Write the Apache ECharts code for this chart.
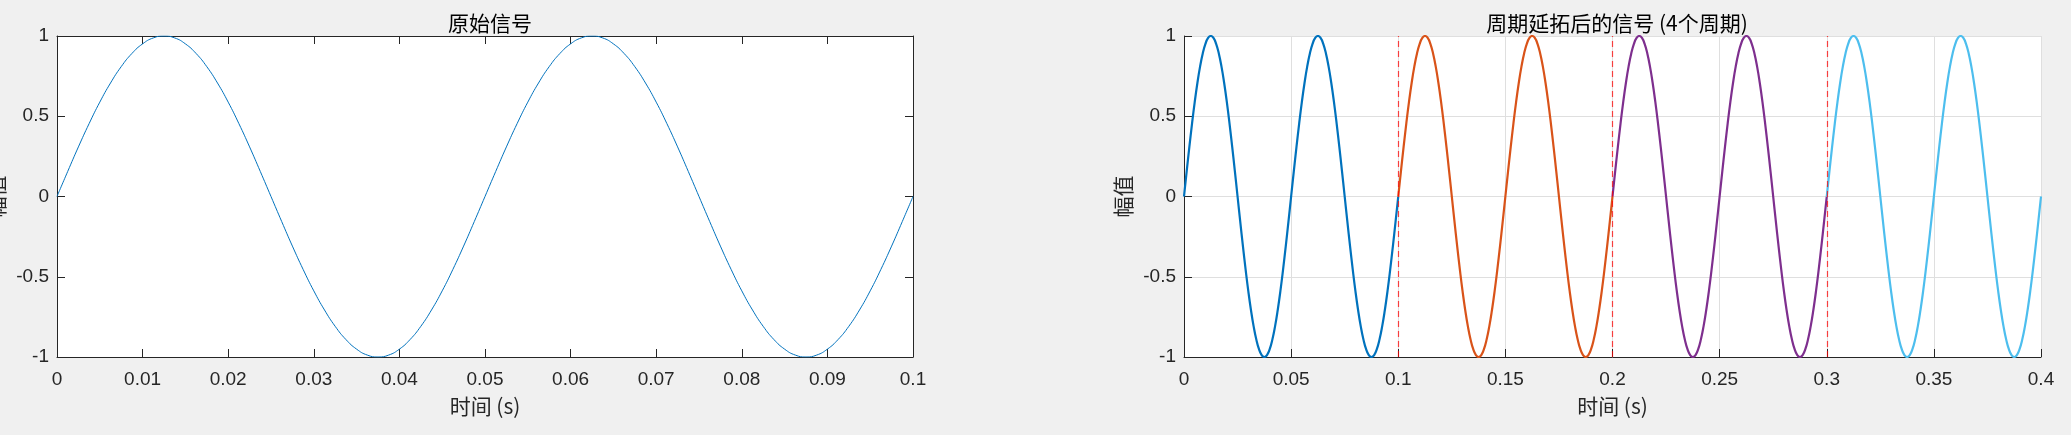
<!DOCTYPE html>
<html>
<head>
<meta charset="utf-8">
<script src="https://cdn.jsdelivr.net/npm/echarts@6/dist/echarts.min.js"></script>
<style>
html,body{margin:0;padding:0;background:#f0f0f0;}
#c{width:2071px;height:435px;}
</style>
</head>
<body>
<div id="c"></div>
<script>
// ---- data ----
const titles = ['原始信号', '周期延拓后的信号 (4个周期)'];
const xName = '时间 (s)';
const yName = '幅值';
// one period of the original signal (0 .. 0.1 s), sampled every 0.00125 s
const timeOrig = [0, 0.00125, 0.0025, 0.00375, 0.005, 0.00625, 0.0075, 0.00875, 0.01, 0.01125,
  0.0125, 0.01375, 0.015, 0.01625, 0.0175, 0.01875, 0.02, 0.02125, 0.0225, 0.02375,
  0.025, 0.02625, 0.0275, 0.02875, 0.03, 0.03125, 0.0325, 0.03375, 0.035, 0.03625,
  0.0375, 0.03875, 0.04, 0.04125, 0.0425, 0.04375, 0.045, 0.04625, 0.0475, 0.04875,
  0.05, 0.05125, 0.0525, 0.05375, 0.055, 0.05625, 0.0575, 0.05875, 0.06, 0.06125,
  0.0625, 0.06375, 0.065, 0.06625, 0.0675, 0.06875, 0.07, 0.07125, 0.0725, 0.07375,
  0.075, 0.07625, 0.0775, 0.07875, 0.08, 0.08125, 0.0825, 0.08375, 0.085, 0.08625,
  0.0875, 0.08875, 0.09, 0.09125, 0.0925, 0.09375, 0.095, 0.09625, 0.0975, 0.09875, 0.1];
const ampOrig = [0, 0.156, 0.309, 0.454, 0.588, 0.707, 0.809, 0.891, 0.951, 0.988,
  1, 0.988, 0.951, 0.891, 0.809, 0.707, 0.588, 0.454, 0.309, 0.156,
  0, -0.156, -0.309, -0.454, -0.588, -0.707, -0.809, -0.891, -0.951, -0.988,
  -1, -0.988, -0.951, -0.891, -0.809, -0.707, -0.588, -0.454, -0.309, -0.156,
  0, 0.156, 0.309, 0.454, 0.588, 0.707, 0.809, 0.891, 0.951, 0.988,
  1, 0.988, 0.951, 0.891, 0.809, 0.707, 0.588, 0.454, 0.309, 0.156,
  0, -0.156, -0.309, -0.454, -0.588, -0.707, -0.809, -0.891, -0.951, -0.988,
  -1, -0.988, -0.951, -0.891, -0.809, -0.707, -0.588, -0.454, -0.309, -0.156, 0];
// start time of each repeated period in the extended signal
const periodStarts = [0, 0.1, 0.2, 0.3];
const periodColors = ['#0072BD', '#D95319', '#7E2F8E', '#4DBEEE'];
// period boundaries (red dashed lines)
const boundaries = [0.1, 0.2, 0.3];
const yTicks = { min: -1, max: 1, interval: 0.5 };
const xLeft = { min: 0, max: 0.1, interval: 0.01 };
const xRight = { min: 0, max: 0.4, interval: 0.05 };

// ---- chart ----
const AX = '#262626';
const FONT = '"Liberation Sans", Arial, "Noto Sans CJK SC", sans-serif';
const CJK = '"Noto Sans CJK SC", "Liberation Sans", sans-serif';
const fmt = v => String(+v.toFixed(4));

const chart = echarts.init(document.getElementById('c'), null, { renderer: 'canvas' });

function baseAxisLine() { return { show: true, onZero: false, lineStyle: { color: AX, width: 1 } }; }
function ticks(len) { return { show: true, inside: true, length: len, lineStyle: { color: AX, width: 1 } }; }
const label = { color: AX, fontSize: 19, fontFamily: FONT };
const nameStyle = { color: AX, fontSize: 21, fontFamily: CJK };

const grids = [
  { left: 57, right: 1158, top: 36, bottom: 78, backgroundColor: '#fff', show: true, borderWidth: 0,
    containLabel: false, outerBoundsMode: 'none' },
  { left: 1184, right: 30, top: 36, bottom: 78, backgroundColor: '#fff', show: true, borderWidth: 0,
    containLabel: false, outerBoundsMode: 'none' }
];

const xAxes = [
  // left plot bottom
  { type: 'value', gridIndex: 0, position: 'bottom', ...xLeft,
    axisLine: baseAxisLine(), axisTick: ticks(8), splitLine: { show: false },
    axisLabel: { ...label, margin: 13, formatter: fmt },
    name: xName, nameLocation: 'middle', nameGap: 39, nameTextStyle: nameStyle },
  // left plot top (box)
  { type: 'value', gridIndex: 0, position: 'top', ...xLeft,
    axisLine: baseAxisLine(), axisTick: ticks(8), splitLine: { show: false },
    axisLabel: { show: false } },
  // right plot bottom
  { type: 'value', gridIndex: 1, position: 'bottom', ...xRight,
    axisLine: baseAxisLine(), axisTick: ticks(8),
    splitLine: { show: true, lineStyle: { color: '#dfdfdf', width: 1 } },
    axisLabel: { ...label, margin: 13, formatter: fmt },
    name: xName, nameLocation: 'middle', nameGap: 39, nameTextStyle: nameStyle }
];

const yAxes = [
  { type: 'value', gridIndex: 0, position: 'left', ...yTicks,
    axisLine: baseAxisLine(), axisTick: ticks(8), splitLine: { show: false },
    axisLabel: { ...label, margin: 8, formatter: fmt },
    name: yName, nameLocation: 'middle', nameGap: 50, nameRotate: 90, nameTextStyle: nameStyle },
  { type: 'value', gridIndex: 0, position: 'right', ...yTicks,
    axisLine: baseAxisLine(), axisTick: ticks(8), splitLine: { show: false },
    axisLabel: { show: false } },
  { type: 'value', gridIndex: 1, position: 'left', ...yTicks,
    axisLine: baseAxisLine(), axisTick: ticks(8),
    splitLine: { show: true, lineStyle: { color: '#dfdfdf', width: 1 } },
    axisLabel: { ...label, margin: 8, formatter: fmt },
    name: yName, nameLocation: 'middle', nameGap: 50, nameRotate: 90, nameTextStyle: nameStyle }
];

const series = [];
series.push({
  type: 'line', xAxisIndex: 0, yAxisIndex: 0, showSymbol: false, smooth: true,
  data: timeOrig.map((t, i) => [t, ampOrig[i]]),
  lineStyle: { color: '#0072BD', width: 1 }, silent: true, z: 3
});
periodStarts.forEach((s, k) => {
  series.push({
    type: 'line', xAxisIndex: 2, yAxisIndex: 2, showSymbol: false, smooth: true,
    data: timeOrig.map((t, i) => [+(t + s).toFixed(5), ampOrig[i]]),
    lineStyle: { color: periodColors[k], width: 2.2 }, silent: true, z: 3
  });
});
series.push({
  type: 'line', xAxisIndex: 2, yAxisIndex: 2, data: [], silent: true, z: 2,
  markLine: {
    silent: true, symbol: 'none', animation: false,
    label: { show: false },
    lineStyle: { color: 'rgba(255,0,0,0.72)', width: 1.2, type: [6, 4] },
    data: boundaries.map(b => ({ xAxis: b }))
  }
});

chart.setOption({
  animation: false,
  backgroundColor: '#f0f0f0',
  title: [
    { text: titles[0], left: 485, top: 8, textAlign: 'center',
      textStyle: { color: '#000', fontSize: 21, fontWeight: 'normal', fontFamily: CJK } },
    { text: titles[1], left: 1612, top: 8, textAlign: 'center',
      textStyle: { color: '#000', fontSize: 21, fontWeight: 'normal', fontFamily: CJK } }
  ],
  grid: grids,
  xAxis: xAxes,
  yAxis: yAxes,
  series: series
});
</script>
</body>
</html>
